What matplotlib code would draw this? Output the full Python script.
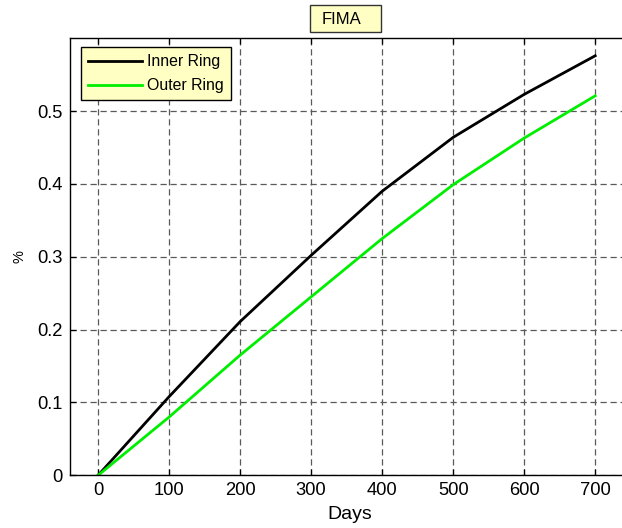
import matplotlib
matplotlib.use("Agg")
import matplotlib.pyplot as plt
from matplotlib.patches import Rectangle

plt.rcParams['font.family'] = ['Liberation Sans', 'DejaVu Sans']

days = [0, 100, 200, 300, 400, 500, 600, 700]
inner_ring = [0.0, 0.108, 0.211, 0.302, 0.390, 0.464, 0.523, 0.576]
outer_ring = [0.0, 0.080, 0.165, 0.245, 0.325, 0.399, 0.463, 0.521]

x_ticks = [0, 100, 200, 300, 400, 500, 600, 700]
y_ticks = [0, 0.1, 0.2, 0.3, 0.4, 0.5]
y_tick_labels = ['0', '0.1', '0.2', '0.3', '0.4', '0.5']

W, H = 622, 528
fig = plt.figure(figsize=(W / 100, H / 100), dpi=100)
ax = fig.add_axes([69.7 / W, (H - 475.3) / H, 561.0 / W, 437.0 / H])

ax.plot(days, inner_ring, color='black', lw=2.0, label='Inner Ring')
ax.plot(days, outer_ring, color='#00ee00', lw=2.0, label='Outer Ring')

ax.set_xlim(-40, 750)
ax.set_ylim(0, 0.6)
ax.set_xticks(x_ticks)
ax.set_yticks(y_ticks)
ax.set_yticklabels(y_tick_labels)

ax.grid(True, color='#5a5a5a', linestyle=(0, (5, 3)), linewidth=0.9)
ax.tick_params(direction='in', top=True, right=True, length=4,
               labelsize=13.2, width=0.9, pad=5)
for s in ax.spines.values():
    s.set_linewidth(1.0)

ax.set_xlabel('Days', fontsize=14, labelpad=5)
ax.set_ylabel('%', fontsize=10.5, labelpad=8)

# Title with a boxed background in the MATLAB style
fig.add_artist(Rectangle((309.5 / W, (H - 32.3) / H), 71.0 / W, 27.3 / H,
                         transform=fig.transFigure, facecolor='#ffffc4',
                         edgecolor='#333333', linewidth=1.0))
fig.text(341.7 / W, (H - 19.0) / H, 'FIMA', fontsize=12,
         ha='center', va='center')

leg = ax.legend(loc='upper left', fontsize=11.4, frameon=True, fancybox=False,
                handlelength=3.4, handletextpad=0.35, borderpad=0.45,
                labelspacing=0.55, borderaxespad=0.0,
                bbox_to_anchor=(11.0 / 561.0, 1 - 9.0 / 437.0))
leg.get_frame().set_facecolor('#ffffc4')
leg.get_frame().set_edgecolor('black')
leg.get_frame().set_linewidth(1.0)
leg.get_frame().set_alpha(1.0)

fig.savefig('out.png', dpi=100)
